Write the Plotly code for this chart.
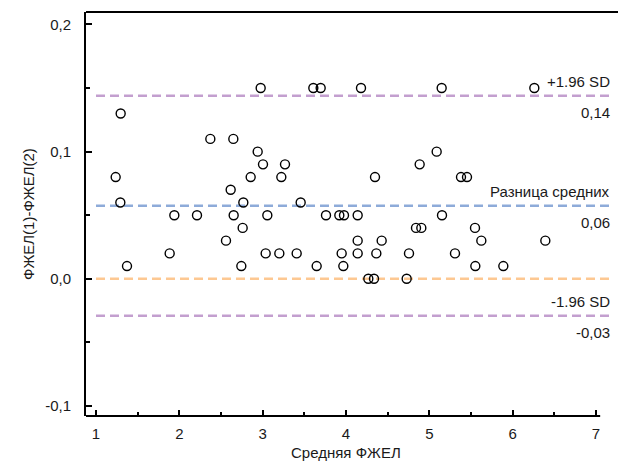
import plotly.graph_objects as go

# Data (Bland-Altman plot)
mean_fvc = [1.236, 1.296, 1.292, 1.372, 1.884, 1.94, 2.212, 2.372, 2.56, 2.616,
            2.648, 2.652, 2.744, 2.76, 2.768, 2.856, 2.94, 2.976, 3.004, 3.036,
            3.056, 3.2, 3.224, 3.268, 3.408, 3.456, 3.608, 3.648, 3.696, 3.76,
            3.92, 3.948, 3.968, 3.976, 4.14, 4.14, 4.14, 4.18, 4.268, 4.336,
            4.348, 4.364, 4.428, 4.728, 4.756, 4.84, 4.884, 4.904, 5.088, 5.148,
            5.152, 5.308, 5.38, 5.452, 5.548, 5.552, 5.624, 5.888, 6.26, 6.392]
diff_fvc = [0.08, 0.13, 0.06, 0.01, 0.02, 0.05, 0.05, 0.11, 0.03, 0.07,
            0.11, 0.05, 0.01, 0.04, 0.06, 0.08, 0.10, 0.15, 0.09, 0.02,
            0.05, 0.02, 0.08, 0.09, 0.02, 0.06, 0.15, 0.01, 0.15, 0.05,
            0.05, 0.02, 0.01, 0.05, 0.05, 0.03, 0.02, 0.15, 0.00, 0.00,
            0.08, 0.02, 0.03, 0.00, 0.02, 0.04, 0.09, 0.04, 0.10, 0.15,
            0.05, 0.02, 0.08, 0.08, 0.04, 0.01, 0.03, 0.01, 0.15, 0.03]

mean_diff = 0.0575
upper_loa = 0.144
lower_loa = -0.029
zero_ref = 0.0

line_names = ["+1.96 SD", "Разница средних", "-1.96 SD"]
line_value_labels = ["0,14", "0,06", "-0,03"]

x_tickvals = [1, 2, 3, 4, 5, 6, 7]
x_ticktext = ["1", "2", "3", "4", "5", "6", "7"]
y_tickvals = [0.2, 0.1, 0.0, -0.1]
y_ticktext = ["0,2", "0,1", "0,0", "-0,1"]

x_title = "Средняя ФЖЕЛ"
y_title = "ФЖЕЛ(1)-ФЖЕЛ(2)"

FONT = "Liberation Sans, Arial, sans-serif"
FS = 15
TXT = "#1a1a1a"
purple = "#c39fcf"
blue = "#8eabd9"
orange = "#fdc892"

fig = go.Figure()
fig.add_trace(go.Scatter(
    x=mean_fvc, y=diff_fvc, mode="markers",
    marker=dict(symbol="circle-open", size=9, color="black",
                line=dict(width=1.4, color="black")),
    showlegend=False, cliponaxis=False, hoverinfo="skip"))

x_line_start = 1.0
x_line_end = 7.19
for val, col in [(upper_loa, purple), (mean_diff, blue), (zero_ref, orange), (lower_loa, purple)]:
    fig.add_shape(type="line", xref="x", yref="y", x0=x_line_start, x1=x_line_end,
                  y0=val, y1=val, line=dict(color=col, width=2.5, dash="9px,5px"),
                  layer="below")

# axis frame pieces
fig.add_shape(type="line", xref="x", yref="paper", x0=0.88, x1=7.05, y0=0, y1=0,
              line=dict(color="black", width=2))
fig.add_shape(type="line", xref="paper", yref="paper", x0=0, x1=1, y0=1, y1=1,
              line=dict(color="black", width=2))

for name, lab, val in zip(line_names, line_value_labels, [upper_loa, mean_diff, lower_loa]):
    fig.add_annotation(x=x_line_end, y=val, xref="x", yref="y", text=name,
                       showarrow=False, xanchor="right", yanchor="middle", yshift=14,
                       font=dict(family=FONT, size=FS, color=TXT))
    fig.add_annotation(x=x_line_end, y=val, xref="x", yref="y", text=lab,
                       showarrow=False, xanchor="right", yanchor="middle", yshift=-17,
                       font=dict(family=FONT, size=FS, color=TXT))

fig.add_annotation(x=4.0, y=0, xref="x", yref="paper", text=x_title, showarrow=False,
                   xanchor="center", yanchor="middle", yshift=-36,
                   font=dict(family=FONT, size=FS, color=TXT))
fig.add_annotation(x=0, y=0.5, xref="paper", yref="paper", text=y_title, showarrow=False,
                   xanchor="center", yanchor="middle", xshift=-58, textangle=-90,
                   font=dict(family=FONT, size=FS, color=TXT))

fig.update_layout(
    width=618, height=476,
    margin=dict(l=86, r=0, t=12, b=60),
    paper_bgcolor="white", plot_bgcolor="white",
    font=dict(family=FONT, size=FS, color=TXT),
    xaxis=dict(range=[0.88, 7.264], tickvals=x_tickvals, ticktext=x_ticktext,
               ticks="inside", ticklen=6, tickwidth=2, tickcolor="black",
               showline=False, showgrid=False, zeroline=False,
               minor=dict(dtick=0.5, tick0=0.5, ticks="inside", ticklen=4, tickwidth=1.5,
                          tickcolor="black", showgrid=False),
               ticklabelstandoff=7,
               tickfont=dict(family=FONT, size=FS, color=TXT)),
    yaxis=dict(range=[-0.1079, 0.2098], tickvals=y_tickvals, ticktext=y_ticktext,
               ticks="inside", ticklen=6, tickwidth=2, tickcolor="black",
               showline=True, linecolor="black", linewidth=2,
               showgrid=False, zeroline=False,
               minor=dict(dtick=0.05, tick0=0, ticks="inside", ticklen=4, tickwidth=1.5,
                          tickcolor="black", showgrid=False),
               ticklabelstandoff=10,
               tickfont=dict(family=FONT, size=FS, color=TXT)),
)

fig.write_html("out.html", config={"displayModeBar": False},
               post_script="document.body.style.margin='0';document.body.style.overflow='hidden';")
